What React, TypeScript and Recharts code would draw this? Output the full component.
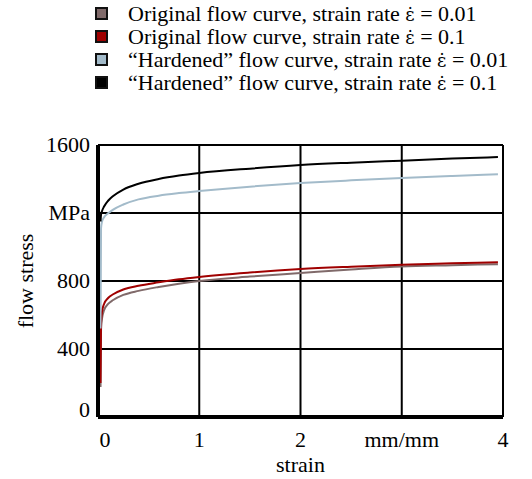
import React from "react";
import { LineChart, Line, XAxis, YAxis, CartesianGrid, Label } from "recharts";

const strain = [0.025, 0.03, 0.04, 0.06, 0.1, 0.15, 0.25, 0.4, 0.6, 0.8, 1, 1.5, 2, 2.5, 3, 3.5, 3.95];

const original001 = [176, 515, 580, 628, 665, 688, 718, 742, 765, 784, 800, 826, 847, 868, 886, 893, 899];
const original01 = [200, 555, 620, 665, 700, 722, 750, 772, 792, 810, 824, 850, 870, 884, 896, 904, 911];
const hardened001 = [520, 1110, 1150, 1175, 1198, 1220, 1250, 1280, 1302, 1317, 1329, 1355, 1376, 1392, 1406, 1418, 1428];
const hardened01 = [1150, 1190, 1212, 1238, 1272, 1300, 1338, 1372, 1400, 1420, 1435, 1461, 1482, 1496, 1508, 1520, 1529];

const xTicks = [0, 1, 2, 3, 4];
const yTicks = [0, 400, 800, 1200, 1600];

const series = [
  { key: "original001", prefix: "Original flow curve, strain rate ", rate: "0.01", color: "#806a6a" },
  { key: "original01", prefix: "Original flow curve, strain rate ", rate: "0.1", color: "#a00000" },
  { key: "hardened001", prefix: "“Hardened” flow curve, strain rate ", rate: "0.01", color: "#a3bbca" },
  { key: "hardened01", prefix: "“Hardened” flow curve, strain rate ", rate: "0.1", color: "#000000" },
];

const data = strain.map((s, i) => ({
  strain: s,
  original001: original001[i],
  original01: original01[i],
  hardened001: hardened001[i],
  hardened01: hardened01[i],
}));

const FONT = "'Liberation Serif', 'Times New Roman', serif";

const XTick = ({ x, y, payload }: any) => (
  <text
    x={x + (payload.value === 0 ? 7 : 0)}
    y={y + 30}
    textAnchor="middle"
    fontSize={22}
    fontFamily={FONT}
    fill="#000"
  >
    {payload.value === 3 ? "mm/mm" : payload.value}
  </text>
);

const YTick = ({ x, y, payload }: any) => (
  <text
    x={x - 8}
    y={y + (payload.value === 0 ? -7 : 0) + 7}
    textAnchor="end"
    fontSize={22}
    fontFamily={FONT}
    fill="#000"
  >
    {payload.value === 1200 ? "MPa" : payload.value}
  </text>
);

export default function App() {
  return (
    <div style={{ position: "absolute", left: 0, top: 0, width: 532, height: 479, background: "#fff", fontFamily: FONT }}>
      {/* Legend */}
      <div style={{ position: "absolute", left: 95, top: 2 }}>
        {series.map((s) => (
          <div key={s.key} style={{ display: "flex", alignItems: "center", height: 23 }}>
            <div
              style={{
                width: 13,
                height: 13,
                boxSizing: "border-box",
                border: "2px solid #111",
                background: s.color,
                marginRight: 20,
              }}
            />
            <span style={{ fontSize: 22, lineHeight: "23px", color: "#000", whiteSpace: "nowrap" }}>
              {s.prefix}
              <span style={{ fontFamily: "'DejaVu Serif', serif", fontSize: 18 }}>ε̇</span> = {s.rate}
            </span>
          </div>
        ))}
      </div>

      <div style={{ position: "absolute", left: 0, top: 0 }}>
        <LineChart width={532} height={479} data={data} margin={{ top: 145, right: 29, bottom: 0, left: 0 }}>
          <CartesianGrid stroke="#000" strokeWidth={2} />
          <XAxis
            dataKey="strain"
            type="number"
            domain={[0, 4]}
            ticks={xTicks}
            height={62}
            tickSize={0}
            tickMargin={0}
            tickLine={false}
            axisLine={{ stroke: "#000", strokeWidth: 4 }}
            tick={<XTick />}
          >
            <Label
              content={({ viewBox }: any) => (
                <text
                  x={viewBox.x + viewBox.width / 2}
                  y={472}
                  textAnchor="middle"
                  fontSize={22}
                  fontFamily={FONT}
                  fill="#000"
                >
                  strain
                </text>
              )}
            />
          </XAxis>
          <YAxis
            type="number"
            domain={[0, 1600]}
            ticks={yTicks}
            width={98}
            tickSize={0}
            tickMargin={0}
            tickLine={false}
            axisLine={{ stroke: "#000", strokeWidth: 4 }}
            tick={<YTick />}
          >
            <Label
              content={({ viewBox }: any) => {
                const cx = 25;
                const cy = viewBox.y + viewBox.height / 2;
                return (
                  <text
                    x={cx}
                    y={cy}
                    transform={`rotate(-90 ${cx} ${cy})`}
                    textAnchor="middle"
                    dominantBaseline="central"
                    fontSize={22}
                    fontFamily={FONT}
                    fill="#000"
                  >
                    flow stress
                  </text>
                );
              }}
            />
          </YAxis>
          {series.map((s) => (
            <Line
              key={s.key}
              dataKey={s.key}
              name={s.prefix + "ε̇ = " + s.rate}
              type="monotone"
              stroke={s.color}
              strokeWidth={2}
              dot={false}
              activeDot={false}
              isAnimationActive={false}
            />
          ))}
        </LineChart>
      </div>
    </div>
  );
}
